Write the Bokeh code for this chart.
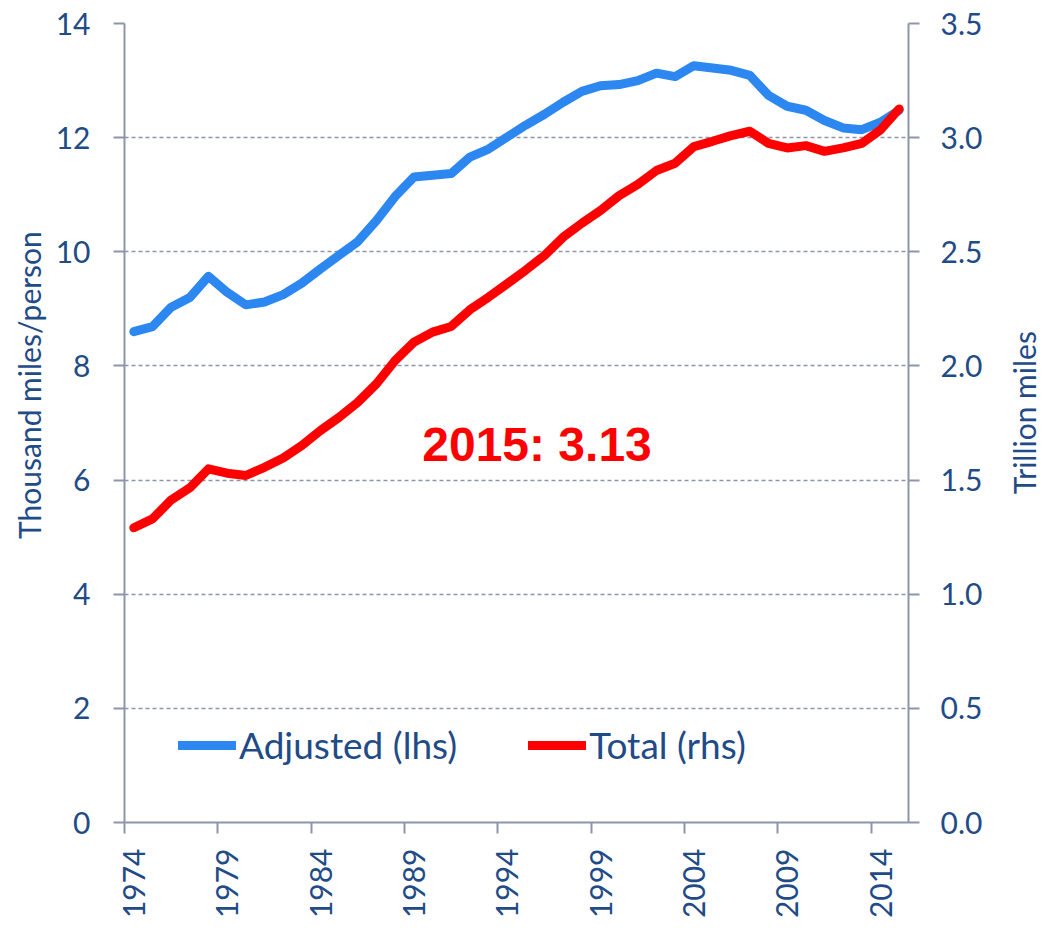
import math
from bokeh.plotting import figure
from bokeh.layouts import row
from bokeh.models import (Range1d, LinearAxis, FixedTicker, Legend, LegendItem,
                          Label, PrintfTickFormatter, Grid)
from bokeh.embed import file_html
from bokeh.resources import INLINE

# ---------------- data ----------------
years = list(range(1974, 2016))
adjusted = [8.60, 8.69, 9.03, 9.20, 9.57, 9.29, 9.07, 9.12, 9.25, 9.45,
            9.70, 9.94, 10.18, 10.55, 10.97, 11.31, 11.34, 11.37, 11.66, 11.80,
            12.01, 12.22, 12.41, 12.62, 12.81, 12.91, 12.93, 13.00, 13.13, 13.07,
            13.26, 13.22, 13.18, 13.09, 12.74, 12.55, 12.48, 12.30, 12.17, 12.14,
            12.27, 12.48]
total = [1.291, 1.330, 1.413, 1.466, 1.549, 1.530, 1.520, 1.556, 1.597, 1.651,
         1.717, 1.775, 1.841, 1.922, 2.024, 2.104, 2.148, 2.173, 2.246, 2.301,
         2.360, 2.420, 2.484, 2.564, 2.625, 2.681, 2.746, 2.795, 2.856, 2.888,
         2.961, 2.984, 3.009, 3.028, 2.975, 2.955, 2.965, 2.940, 2.955, 2.975,
         3.034, 3.126]
left_ticks = [0, 2, 4, 6, 8, 10, 12, 14]
right_ticks = [0.0, 0.5, 1.0, 1.5, 2.0, 2.5, 3.0, 3.5]
label_years = [1974, 1979, 1984, 1989, 1994, 1999, 2004, 2009, 2014]
series_names = ["Adjusted (lhs)", "Total (rhs)"]
left_title = "Thousand miles/person"
right_title = "Trillion miles"
annotation = "2015: 3.13"

# ---------------- style ----------------
BLUE = "#2C87F0"
RED = "#FF0000"
AXIS = "#8E95AB"
TEXT = "#1F4B87"
FONT = "Lato"
H = 926

p = figure(width=1006, height=H,
           x_range=Range1d(1973.5, 2015.5), y_range=Range1d(0, 14),
           x_axis_type=None, y_axis_type=None,
           output_backend="svg", toolbar_location=None,
           min_border_left=124, min_border_right=98,
           min_border_top=23, min_border_bottom=104)
p.outline_line_color = None
p.background_fill_color = "white"
p.border_fill_color = "white"
p.extra_y_ranges = {"r": Range1d(0, 3.5)}

# grid (dashed)
grid = Grid(dimension=1, ticker=FixedTicker(ticks=left_ticks[1:]),
            grid_line_color=AXIS, grid_line_width=1.5, grid_line_dash="4 3")
p.add_layout(grid)

# series
r1 = p.line(years, adjusted, line_color=BLUE, line_width=9,
            line_join="round", line_cap="round")
r2 = p.line(years, total, y_range_name="r", line_color=RED, line_width=9,
            line_join="round", line_cap="round")

def style_axis(ax):
    ax.axis_line_color = AXIS
    ax.axis_line_width = 2
    ax.major_tick_line_color = AXIS
    ax.major_tick_line_width = 2
    ax.major_tick_out = 11
    ax.major_tick_in = 0
    ax.minor_tick_line_color = None
    ax.major_label_text_font = FONT
    ax.major_label_text_font_size = "30px"
    ax.major_label_text_color = TEXT
    ax.axis_label_text_font = FONT
    ax.axis_label_text_font_size = "30px"
    ax.axis_label_text_font_style = "normal"
    ax.axis_label_text_color = TEXT

# left axis (title sits a little above centre, as in the reference)
yl = LinearAxis(ticker=FixedTicker(ticks=left_ticks),
                axis_label="\u00a0" * 10 + left_title)
style_axis(yl)
yl.major_label_standoff = 23
yl.axis_label_standoff = 6
p.add_layout(yl, "left")

# right axis (ticks and labels)
yr = LinearAxis(y_range_name="r", ticker=FixedTicker(ticks=right_ticks),
                formatter=PrintfTickFormatter(format="%.1f"))
style_axis(yr)
yr.major_label_standoff = 21
p.add_layout(yr, "right")

# bottom axis: labels at category centres, tick marks at category boundaries
xl = LinearAxis(ticker=FixedTicker(ticks=label_years,
                                   minor_ticks=[y - 0.5 for y in label_years]))
style_axis(xl)
xl.major_tick_out = 0
xl.major_tick_line_color = None
xl.minor_tick_line_color = AXIS
xl.minor_tick_line_width = 2
xl.minor_tick_out = 11
xl.minor_tick_in = 0
xl.major_label_orientation = math.pi / 2
xl.major_label_standoff = 15
p.add_layout(xl, "below")

# legend
legend = Legend(items=[LegendItem(label=series_names[0], renderers=[r1]),
                       LegendItem(label=series_names[1], renderers=[r2])],
                orientation="horizontal", location=(54, 55),
                border_line_color=None, background_fill_alpha=0,
                padding=0, margin=0, spacing=71, label_standoff=3,
                glyph_width=58, glyph_height=30,
                label_text_font=FONT, label_text_font_size="37px",
                label_text_color=TEXT)
p.add_layout(legend)

# annotation
p.add_layout(Label(x=1995.6, y=6.632, text=annotation, text_align="center",
                   text_baseline="middle", text_font="Liberation Sans",
                   text_font_style="bold", text_font_size="48px", text_color=RED))

# narrow strip holding the right-hand axis title (reads bottom-to-top)
p2 = figure(width=36, height=H, x_range=Range1d(0, 36), y_range=Range1d(0, H),
            x_axis_type=None, y_axis_type=None,
            output_backend="svg", toolbar_location=None, min_border=0)
p2.outline_line_color = None
p2.background_fill_color = "white"
p2.border_fill_color = "white"
p2.add_layout(Label(x=17, y=475, text=right_title, angle=math.pi / 2,
                    text_align="center", text_baseline="middle",
                    text_font=FONT, text_font_size="30px", text_color=TEXT))

layout = row(p, p2)
open("out.html", "w").write(file_html(layout, INLINE))
